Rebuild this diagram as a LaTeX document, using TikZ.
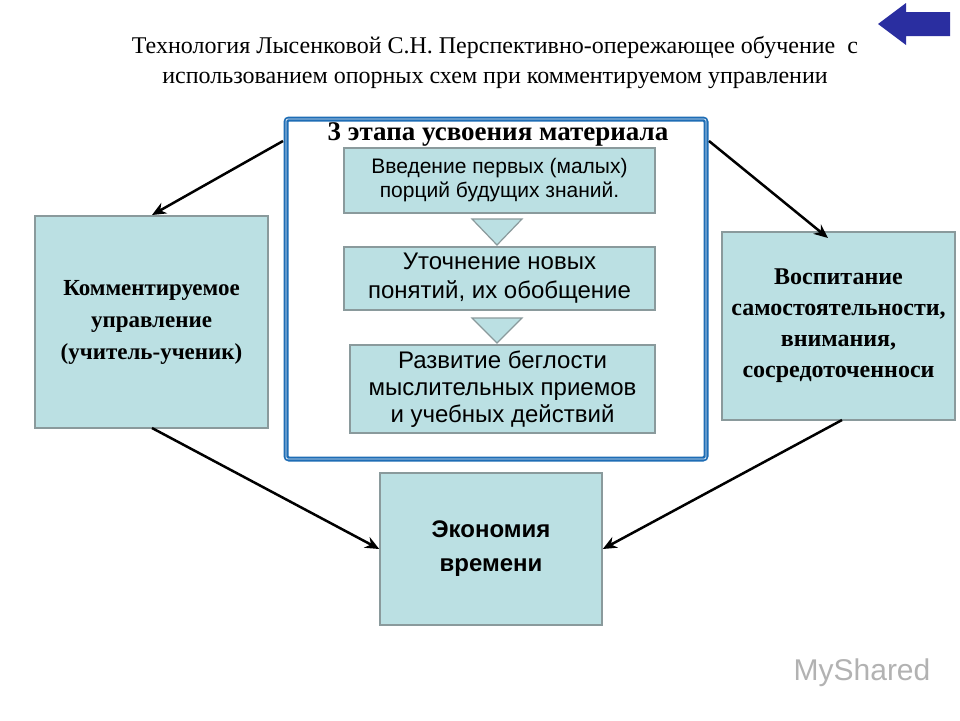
\documentclass[tikz,border=0pt]{standalone}
\usepackage{fontspec}
\setmainfont{Liberation Serif}
\setsansfont{Liberation Sans}
\usetikzlibrary{arrows.meta}
\definecolor{boxfill}{HTML}{BBE0E3}
\definecolor{boxline}{HTML}{8A9A9C}
\definecolor{frameblue}{HTML}{1E6DB5}
\definecolor{arrblue}{HTML}{2A2EA0}
\tikzset{
  stage/.style={draw=boxline,line width=1.5pt,fill=boxfill,align=center,inner sep=0pt},
  side/.style={draw=boxline,line width=1.5pt,fill=boxfill,align=center,inner sep=0pt},
  conn/.style={-{Stealth[length=14pt,width=12pt]},line width=2.5pt},
  tri/.style={draw=boxline,line width=1.2pt,fill=boxfill}
}
\begin{document}
\begin{tikzpicture}[x=1pt,y=-1pt]
\useasboundingbox[fill=white] (0,0) rectangle (960,720);
\node[font=\fontsize{24}{30}\selectfont,align=center] (title) at (495,62) {Технология Лысенковой С.Н. Перспективно-опережающее обучение \ с\\использованием опорных схем при комментируемом управлении};
% back button
\fill[arrblue] (878,24) -- (906,3) -- (906,12) -- (950,12) -- (950,36) -- (906,36) -- (906,45) -- cycle;
% frame
\draw[frameblue,line width=5pt,rounded corners=3pt] (286,119) rectangle (706,459);
\draw[white!85!frameblue,line width=0.8pt,rounded corners=2pt] (286,119) rectangle (706,459);
\node[font=\bfseries\fontsize{27}{30}\selectfont] (ft) at (498,134.5) {3 этапа усвоения материала};
\node[stage,minimum width=311pt,minimum height=65pt,font=\sffamily\fontsize{21}{24}\selectfont] (s1) at (499.5,180.5) {Введение первых (малых)\\порций будущих знаний.};
\node[stage,minimum width=311pt,minimum height=63pt,font=\sffamily\fontsize{24}{29}\selectfont] (s2) at (499.5,278.5) {Уточнение новых\\понятий, их обобщение};
\node[stage,minimum width=305pt,minimum height=88pt,font=\sffamily\fontsize{24}{27}\selectfont] (s3) at (502.5,389) {Развитие беглости\\мыслительных приемов\\и учебных действий};
\draw[tri] (472,219) -- (522,219) -- (497,245) -- cycle;
\draw[tri] (472,318) -- (522,318) -- (497,343) -- cycle;
\node[side,minimum width=233pt,minimum height=212pt,font=\bfseries\fontsize{23}{32}\selectfont] (L) at (151.5,322) {Комментируемое\\управление\\(учитель-ученик)};
\node[side,minimum width=233pt,minimum height=188pt,font=\bfseries\fontsize{24}{31}\selectfont] (R) at (838.5,326) {Воспитание\\самостоятельности,\\внимания,\\сосредоточенноси};
\node[side,font=\sffamily\bfseries\fontsize{24}{34}\selectfont,minimum width=222pt,minimum height=152pt] (B) at (491,549) {Экономия\\времени};
\coordinate (fl) at (283,141);
\coordinate (fr) at (709,141);
\draw[conn] (fl) -- (152,215);
\draw[conn] (fr) -- (828,238);
\draw[conn] (152,428) -- (B.west);
\draw[conn] (842,420) -- (B.east);
% watermark
\node[font=\sffamily\fontsize{30}{34}\selectfont,text=gray!60] (wm) at (862,673) {MyShared};
\end{tikzpicture}
\end{document}
